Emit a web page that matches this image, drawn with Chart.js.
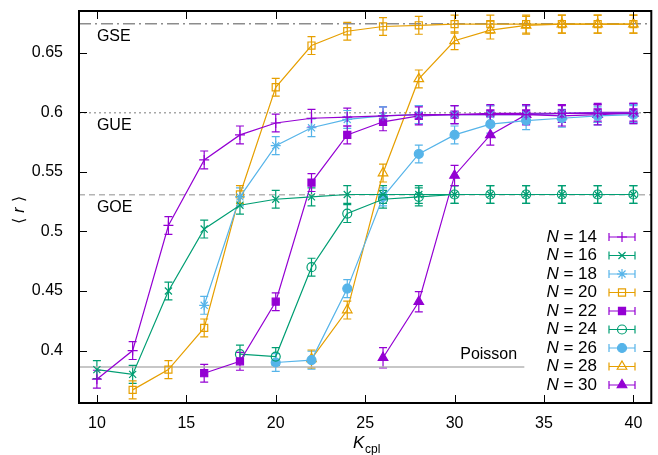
<!DOCTYPE html>
<html>
<head>
<meta charset="utf-8">
<script src="https://cdn.jsdelivr.net/npm/chart.js@4.4.0/dist/chart.umd.min.js"></script>
<style>
    html, body { margin: 0; padding: 0; background: #fff; }
    #wrap { width: 658px; height: 455px; }
</style>
</head>
<body>
<div id="wrap"><canvas id="chart" width="658" height="455"></canvas></div>
<script>
// coupling values on the x axis
const kValues = [10, 12, 14, 16, 18, 20, 22, 24, 26, 28, 30, 32, 34, 36, 38, 40];

// <r> for each system size N (null = not computed)
const rN14 = [0.376, 0.400, 0.505, 0.560, 0.581, 0.591, 0.595, 0.596, 0.597, 0.598, 0.598, 0.598, 0.598, 0.599, 0.599, 0.599];
const rN16 = [0.384, 0.380, 0.450, 0.502, 0.522, 0.527, 0.529, 0.531, 0.531, 0.531, 0.531, 0.531, 0.531, 0.531, 0.531, 0.531];
const rN18 = [null, null, null, 0.438, 0.529, 0.572, 0.587, 0.594, 0.597, 0.598, 0.598, 0.598, 0.598, 0.599, 0.599, 0.599];
const rN20 = [null, 0.367, 0.384, 0.419, 0.531, 0.621, 0.656, 0.668, 0.672, 0.673, 0.674, 0.674, 0.674, 0.674, 0.674, 0.674];
const rN22 = [null, null, null, 0.381, 0.391, 0.441, 0.541, 0.581, 0.592, 0.597, 0.598, 0.599, 0.599, 0.599, 0.600, 0.600];
const rN24 = [null, null, null, null, 0.397, 0.395, 0.470, 0.515, 0.527, 0.529, 0.531, 0.531, 0.531, 0.531, 0.531, 0.531];
const rN26 = [null, null, null, null, null, 0.390, 0.392, 0.452, 0.529, 0.565, 0.581, 0.590, 0.593, 0.595, 0.597, 0.598];
const rN28 = [null, null, null, null, null, null, 0.393, 0.434, 0.549, 0.628, 0.660, 0.669, 0.673, 0.674, 0.674, 0.674];
const rN30 = [null, null, null, null, null, null, null, null, 0.394, 0.441, 0.547, 0.581, 0.598, 0.597, 0.598, 0.599];

// half-height of the error bars per series
const errN = [0.0075, 0.0075, 0.0075, 0.0075, 0.0075, 0.0075, 0.0075, 0.0075, 0.0085];

const seriesLabels = ['14', '16', '18', '20', '22', '24', '26', '28', '30'];
const seriesValues = [rN14, rN16, rN18, rN20, rN22, rN24, rN26, rN28, rN30];

// random-matrix reference levels
const refNames = ['GSE', 'GUE', 'GOE', 'Poisson'];
const refLevels = [0.6744, 0.5996, 0.5307, 0.3863];

const xTicks = [10, 15, 20, 25, 30, 35, 40];
const yTicks = [0.4, 0.45, 0.5, 0.55, 0.6, 0.65];

const purple = '#9400d3', green = '#009e73', blue = '#56b4e9', orange = '#e69f00';
const seriesColors = [purple, green, blue, orange, purple, green, blue, orange, purple];
const seriesStyles = [
    { pointStyle: 'cross', filled: false, radius: 5 },
    { pointStyle: 'crossRot', filled: false, radius: 5 },
    { pointStyle: 'star', filled: false, radius: 5 },
    { pointStyle: 'rect', filled: false, radius: 5 },
    { pointStyle: 'rect', filled: true, radius: 5 },
    { pointStyle: 'circle', filled: false, radius: 4.5 },
    { pointStyle: 'circle', filled: true, radius: 4.5 },
    { pointStyle: 'triangle', filled: false, radius: 5.5 },
    { pointStyle: 'triangle', filled: true, radius: 5.5 }
];

const FONT = '"Liberation Sans", Arial, sans-serif';

function buildPoints(values) {
    const pts = [];
    values.forEach((v, i) => {
        if (v !== null) pts.push({ x: kValues[i], y: v });
    });
    return pts;
}

const dataSets = seriesValues.map((vals, i) => ({
    label: 'N = ' + seriesLabels[i],
    data: buildPoints(vals),
    err: errN[i],
    borderColor: seriesColors[i],
    backgroundColor: seriesStyles[i].filled ? seriesColors[i] : 'rgba(0,0,0,0)',
    pointStyle: seriesStyles[i].pointStyle,
    pointRadius: seriesStyles[i].radius,
    pointBorderWidth: 1.2,
    borderWidth: 1.2,
    showLine: true,
    order: 0
}));

const refStyles = [
    { color: '#8c8c8c', dash: [12, 4, 2, 4], xEnd: 41 },
    { color: '#a8a8a8', dash: [2, 3], xEnd: 41 },
    { color: '#b4b4b4', dash: [6, 4], xEnd: 41 },
    { color: '#b4b4b4', dash: [], xEnd: 33.9 }
];

const refSets = refLevels.map((lvl, i) => ({
    label: refNames[i],
    data: [{ x: 9, y: lvl }, { x: refStyles[i].xEnd, y: lvl }],
    borderColor: refStyles[i].color,
    borderDash: refStyles[i].dash,
    borderWidth: 1.5,
    pointRadius: 0,
    showLine: true,
    isRef: true,
    order: 10
}));

// error bars, drawn under the markers
const errorBarPlugin = {
    id: 'errorBars',
    beforeDatasetsDraw(chart) {
        const { ctx, scales: { x, y } } = chart;
        ctx.save();
        ctx.lineWidth = 1.2;
        chart.data.datasets.forEach(ds => {
            if (ds.isRef) return;
            ctx.strokeStyle = ds.borderColor;
            ds.data.forEach(p => {
                const px = x.getPixelForValue(p.x);
                const top = y.getPixelForValue(p.y + ds.err);
                const bot = y.getPixelForValue(p.y - ds.err);
                ctx.beginPath();
                ctx.moveTo(px, top); ctx.lineTo(px, bot);
                ctx.moveTo(px - 4, top); ctx.lineTo(px + 4, top);
                ctx.moveTo(px - 4, bot); ctx.lineTo(px + 4, bot);
                ctx.stroke();
            });
        });
        ctx.restore();
    }
};

// frame, inward ticks, labels, custom legend
const decorPlugin = {
    id: 'decor',
    afterDraw(chart) {
        const { ctx, chartArea: a, scales: { x, y } } = chart;
        ctx.save();

        // inward ticks on all four sides
        ctx.strokeStyle = '#000';
        ctx.lineWidth = 1;
        ctx.beginPath();
        xTicks.forEach(t => {
            const px = Math.round(x.getPixelForValue(t)) + 0.5;
            ctx.moveTo(px, a.bottom); ctx.lineTo(px, a.bottom - 8);
            ctx.moveTo(px, a.top); ctx.lineTo(px, a.top + 8);
        });
        yTicks.forEach(t => {
            const py = Math.round(y.getPixelForValue(t)) + 0.5;
            ctx.moveTo(a.left, py); ctx.lineTo(a.left + 8, py);
            ctx.moveTo(a.right, py); ctx.lineTo(a.right - 8, py);
        });
        ctx.stroke();

        // frame
        ctx.lineWidth = 2;
        ctx.strokeRect(a.left, a.top, a.right - a.left, a.bottom - a.top);

        // reference level names
        ctx.fillStyle = '#000';
        ctx.font = '16px ' + FONT;
        ctx.textBaseline = 'middle';
        ctx.textAlign = 'left';
        ctx.fillText('GSE', x.getPixelForValue(10), y.getPixelForValue(refLevels[0]) + 13);
        ctx.fillText('GUE', x.getPixelForValue(10), y.getPixelForValue(refLevels[1]) + 13);
        ctx.fillText('GOE', x.getPixelForValue(10), y.getPixelForValue(refLevels[2]) + 13);
        ctx.textAlign = 'right';
        ctx.fillText('Poisson', x.getPixelForValue(33.5), y.getPixelForValue(refLevels[3]) - 12);

        // y axis title  < r >
        ctx.save();
        ctx.translate(20, 210);
        ctx.rotate(-Math.PI / 2);
        ctx.textAlign = 'center';
        ctx.font = '16px "DejaVu Sans", sans-serif';
        ctx.fillText('\u27e8', -11, 0);
        ctx.fillText('\u27e9', 11, 0);
        ctx.font = 'italic 16px ' + FONT;
        ctx.fillText('r', 0, 0);
        ctx.restore();

        // x axis title K_cpl
        ctx.textAlign = 'left';
        ctx.textBaseline = 'alphabetic';
        ctx.font = 'italic 17px ' + FONT;
        ctx.fillText('K', 353, 448);
        ctx.font = '12px ' + FONT;
        ctx.fillText('cpl', 365, 453);

        // legend
        const rowH = 18.5, top = 237, textRight = 597, x0 = 609, x1 = 635;
        chart.data.datasets.forEach((ds, i) => {
            if (ds.isRef) return;
            const ry = top + i * rowH;
            ctx.textBaseline = 'middle';
            ctx.textAlign = 'right';
            ctx.fillStyle = '#000';
            ctx.font = '17px ' + FONT;
            const num = '= ' + seriesLabels[i];
            ctx.fillText(num, textRight, ry);
            const w = ctx.measureText(num).width;
            ctx.font = 'italic 17px ' + FONT;
            ctx.fillText('N ', textRight - w, ry);

            ctx.strokeStyle = ds.borderColor;
            ctx.lineWidth = 1.2;
            ctx.beginPath();
            ctx.moveTo(x0, ry); ctx.lineTo(x1, ry);
            ctx.moveTo(x0, ry - 4); ctx.lineTo(x0, ry + 4);
            ctx.moveTo(x1, ry - 4); ctx.lineTo(x1, ry + 4);
            ctx.stroke();
            ctx.fillStyle = ds.backgroundColor;
            Chart.helpers.drawPoint(ctx, {
                pointStyle: ds.pointStyle,
                radius: ds.pointRadius,
                rotation: 0,
                borderWidth: 1.2
            }, (x0 + x1) / 2, ry);
        });

        ctx.restore();
    }
};

function noPad(s) {
    s.paddingTop = 0;
    s.paddingBottom = 0;
    s.paddingLeft = 0;
    s.paddingRight = 0;
}

new Chart(document.getElementById('chart'), {
    type: 'scatter',
    data: { datasets: [...dataSets, ...refSets] },
    options: {
        responsive: false,
        animation: false,
        devicePixelRatio: 1,
        layout: { padding: { top: 11, right: 3, left: 0, bottom: 0 } },
        plugins: {
            legend: { display: false },
            tooltip: { enabled: false }
        },
        scales: {
            x: {
                type: 'linear',
                min: 9,
                max: 41,
                afterFit: s => { s.height = 52; noPad(s); },
                afterBuildTicks: s => { s.ticks = xTicks.map(v => ({ value: v })); },
                grid: { display: false, drawTicks: false },
                border: { display: false },
                ticks: {
                    padding: 11,
                    color: '#000',
                    font: { family: FONT, size: 16 },
                    callback: v => String(v)
                }
            },
            y: {
                type: 'linear',
                min: 0.356,
                max: 0.685,
                afterFit: s => { s.width = 79; noPad(s); },
                afterBuildTicks: s => { s.ticks = yTicks.map(v => ({ value: v })); },
                grid: { display: false, drawTicks: false },
                border: { display: false },
                ticks: {
                    padding: 16,
                    color: '#000',
                    font: { family: FONT, size: 16 },
                    callback: v => String(Math.round(v * 100) / 100)
                }
            }
        }
    },
    plugins: [errorBarPlugin, decorPlugin]
});
</script>
</body>
</html>
